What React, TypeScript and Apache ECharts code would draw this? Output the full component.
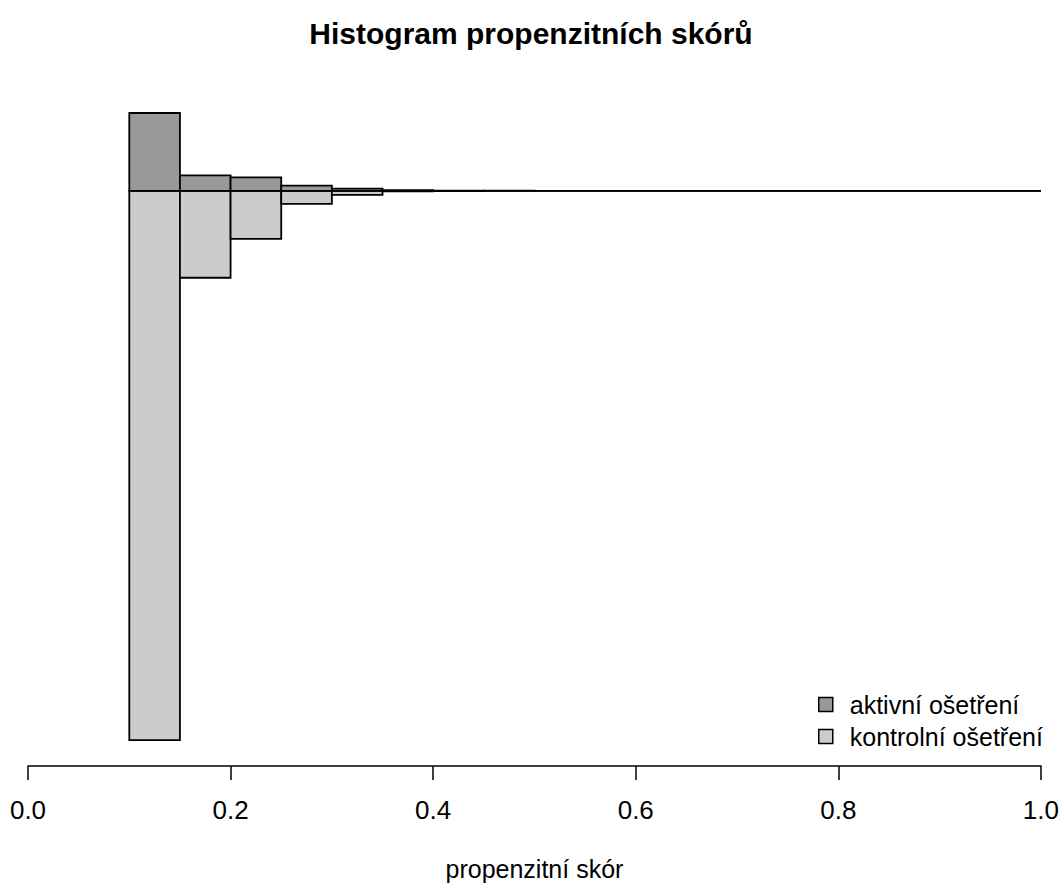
import React, { useEffect, useRef } from "react";
import * as echarts from "echarts";

// Bin edges (propensity score) and bar heights (frequency units)
const binStarts = [0.1, 0.15, 0.2, 0.25, 0.3, 0.35, 0.4, 0.45, 0.5, 0.55, 0.6, 0.65, 0.7, 0.75, 0.8, 0.85, 0.9, 0.95];
const binWidth = 0.05;
const activeCounts = [78, 15.5, 13.5, 5.3, 2.2, 0.8, 0.3, 0.15, 0, 0, 0, 0, 0, 0, 0, 0, 0, 0];
const controlCounts = [550, 87, 48, 13, 4, 0.6, 0.2, 0.1, 0, 0, 0, 0, 0, 0, 0, 0, 0, 0];
const xTicks = [0, 0.2, 0.4, 0.6, 0.8, 1.0];
const titleText = "Histogram propenzitních skórů";
const xName = "propenzitní skór";
const activeName = "aktivní ošetření";
const controlName = "kontrolní ošetření";

const FONT = "'Liberation Sans', Arial, Helvetica, sans-serif";
const DARK = "#999999";
const LIGHT = "#cccccc";
const LW = 1.8;

function makeRender(fill: string) {
  return (params: any, api: any) => {
    const x0 = api.value(0);
    const x1 = api.value(1);
    const v = api.value(2);
    const p0 = api.coord([x0, 0]);
    const p1 = api.coord([x1, v]);
    const h = Math.abs(p1[1] - p0[1]);
    if (h < 0.01) {
      return {
        type: "line",
        shape: { x1: p0[0], y1: p0[1], x2: p1[0], y2: p0[1] },
        style: { stroke: "#000", lineWidth: LW },
      };
    }
    return {
      type: "rect",
      shape: { x: p0[0], y: Math.min(p0[1], p1[1]), width: p1[0] - p0[0], height: h },
      style: { fill, stroke: "#000", lineWidth: LW },
    };
  };
}

export default function App() {
  const ref = useRef<HTMLDivElement>(null);
  useEffect(() => {
    document.body.style.margin = "0";
    const chart = echarts.init(ref.current!, null, { renderer: "svg" });
    const activeData = binStarts.map((s, i) => [s, +(s + binWidth).toFixed(2), activeCounts[i]]);
    const controlData = binStarts.map((s, i) => [s, +(s + binWidth).toFixed(2), -controlCounts[i]]);
    chart.setOption({
      animation: false,
      backgroundColor: "#ffffff",
      title: {
        text: titleText,
        left: "center",
        top: 18,
        padding: 0,
        textStyle: { fontFamily: FONT, fontSize: 30, fontWeight: "bold", color: "#000" },
      },
      legend: {
        orient: "vertical",
        left: 818,
        top: 692,
        padding: 0,
        itemWidth: 14,
        itemHeight: 14,
        itemGap: 7,
        textStyle: { fontFamily: FONT, fontSize: 25, color: "#000", padding: [0, 0, 0, 12] },
        data: [
          { name: activeName, icon: "rect", itemStyle: { color: DARK, borderColor: "#000", borderWidth: 1.5 } },
          { name: controlName, icon: "rect", itemStyle: { color: LIGHT, borderColor: "#000", borderWidth: 1.5 } },
        ],
      },
      grid: { left: 28, right: 20, top: 100, bottom: 119 },
      xAxis: {
        type: "value",
        min: 0,
        max: 1,
        interval: 0.2,
        name: xName,
        nameLocation: "middle",
        nameGap: 90,
        nameTextStyle: { fontFamily: FONT, fontSize: 25, color: "#000" },
        axisLine: { show: true, onZero: false, lineStyle: { color: "#000", width: 1.5 } },
        axisTick: { show: true, length: 14, lineStyle: { color: "#000", width: 1.5 } },
        axisLabel: {
          fontFamily: FONT,
          fontSize: 26,
          color: "#000",
          margin: 31,
          formatter: (v: number) => (xTicks.some((t) => Math.abs(t - v) < 1e-9) ? v.toFixed(1) : ""),
        },
        splitLine: { show: false },
      },
      yAxis: {
        type: "value",
        min: -576,
        max: 91,
        show: false,
        splitLine: { show: false },
      },
      series: [
        {
          name: controlName,
          type: "custom",
          renderItem: makeRender(LIGHT),
          encode: { x: [0, 1], y: 2 },
          itemStyle: { color: LIGHT },
          data: controlData,
          clip: false,
        },
        {
          name: activeName,
          type: "custom",
          renderItem: makeRender(DARK),
          encode: { x: [0, 1], y: 2 },
          itemStyle: { color: DARK },
          data: activeData,
          clip: false,
        },
      ],
    });
    return () => chart.dispose();
  }, []);
  return <div ref={ref} style={{ width: 1062, height: 886 }} />;
}
